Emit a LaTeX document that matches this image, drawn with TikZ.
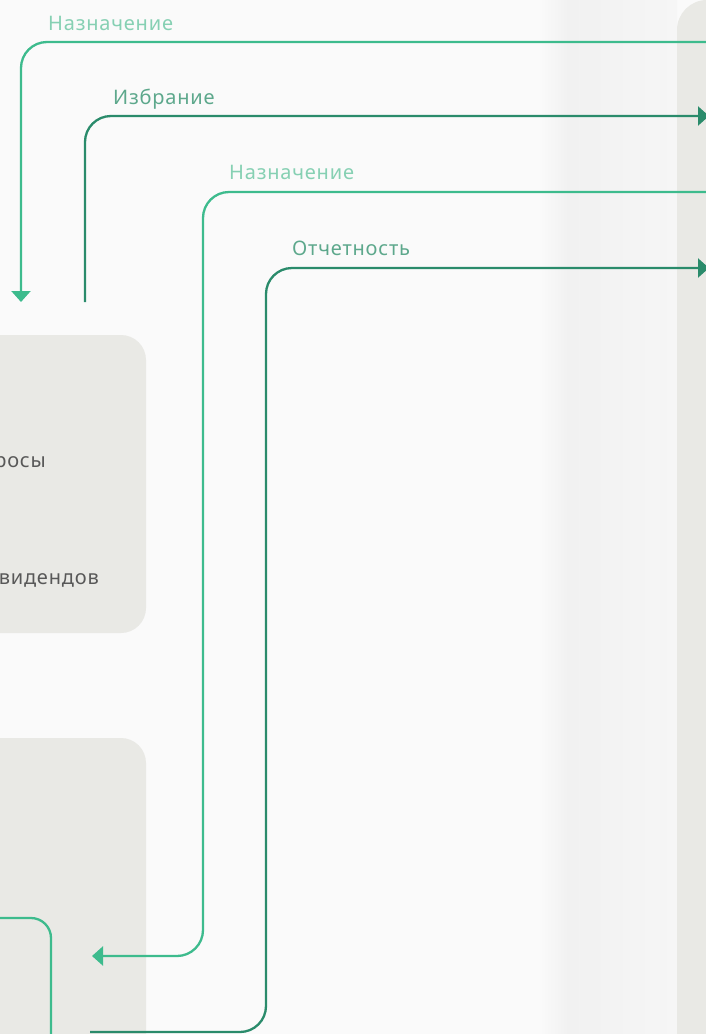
\documentclass[tikz,border=0pt]{standalone}
\usepackage{fontspec}
\setmainfont{Noto Sans}
\newfontfamily\lblfont[LetterSpace=4]{Noto Sans}
\usepackage{tikz}
\usetikzlibrary{arrows.meta}

\definecolor{bgpage}{HTML}{FAFAFA}
\definecolor{bandmid}{HTML}{F1F1F1}
\definecolor{bandright}{HTML}{F6F6F6}
\definecolor{boxgray}{HTML}{E9E9E5}
\definecolor{lightgreen}{HTML}{3DBB8D}
\definecolor{darkgreen}{HTML}{2A8B6B}
\definecolor{lightlabel}{HTML}{86D0B3}
\definecolor{darklabel}{HTML}{5DA88C}
\definecolor{boxtext}{HTML}{585858}

\tikzset{
  lightline/.style={draw=lightgreen, line width=2.3pt, rounded corners=26pt},
  darkline/.style={draw=darkgreen, line width=2.3pt, rounded corners=26pt},
  tip/.style={-{Triangle[length=11pt,width=19pt]}},
  lbllight/.style={text=lightlabel, anchor=base west, inner sep=0pt, font=\lblfont\fontsize{20}{23}\selectfont},
  lbldark/.style={text=darklabel, anchor=base west, inner sep=0pt, font=\lblfont\fontsize{20}{23}\selectfont},
  boxlbl/.style={text=boxtext, anchor=base east, inner sep=0pt, font=\lblfont\fontsize{20}{23}\selectfont},
}

\begin{document}
\begin{tikzpicture}[x=1pt, y=-1pt]
                    \clip (0,0) rectangle (706,1034);
                    \fill[bgpage] (0,0) rectangle (706,1034);
                    \shade[left color=bgpage, right color=bandmid] (540,0) rectangle (568,1034);
                    \shade[left color=bandmid, right color=bandright] (568,0) rectangle (677,1034);
                    \fill[boxgray, rounded corners=30pt] (677,0) rectangle (760,1100);
                    \fill[boxgray, rounded corners=25pt] (-40,335) rectangle (146,633);
                    \fill[boxgray, rounded corners=25pt] (-40,738) rectangle (146,1100);
                    \node[boxlbl] (questions) at (46,467) {росы};
                    \node[boxlbl] (dividends) at (99,584) {видендов};
                    \coordinate (nazn1-from) at (720,42);
                    \coordinate (nazn1-to) at (21,302);
                    \coordinate (izbr-from) at (85,302);
                    \coordinate (izbr-to) at (709,116);
                    \coordinate (nazn2-from) at (720,192);
                    \coordinate (nazn2-turn) at (203,956);
                    \coordinate (nazn2-to) at (92,956);
                    \coordinate (otch-from) at (90,1032);
                    \coordinate (otch-turn) at (266,268);
                    \coordinate (otch-to) at (709,268);
                    \coordinate (inner-from) at (-10,918);
                    \coordinate (inner-to) at (51,1060);
                    \draw[lightline, tip] (nazn1-from) -| (nazn1-to);
                    \draw[darkline, tip] (izbr-from) |- (izbr-to);
                    \draw[lightline, tip] (nazn2-from) -| (nazn2-turn) -- (nazn2-to);
                    \draw[darkline, tip] (otch-from) -| (otch-turn) -- (otch-to);
                    \draw[lightline, rounded corners=20pt] (inner-from) -| (inner-to);
                    \node[lbllight] (nazn1-lbl) at (48,30) {Назначение};
                    \node[lbldark] (izbr-lbl) at (113,104) {Избрание};
                    \node[lbllight] (nazn2-lbl) at (229,179) {Назначение};
                    \node[lbldark] (otch-lbl) at (292,255) {Отчетность};
                \end{tikzpicture}
\end{document}
